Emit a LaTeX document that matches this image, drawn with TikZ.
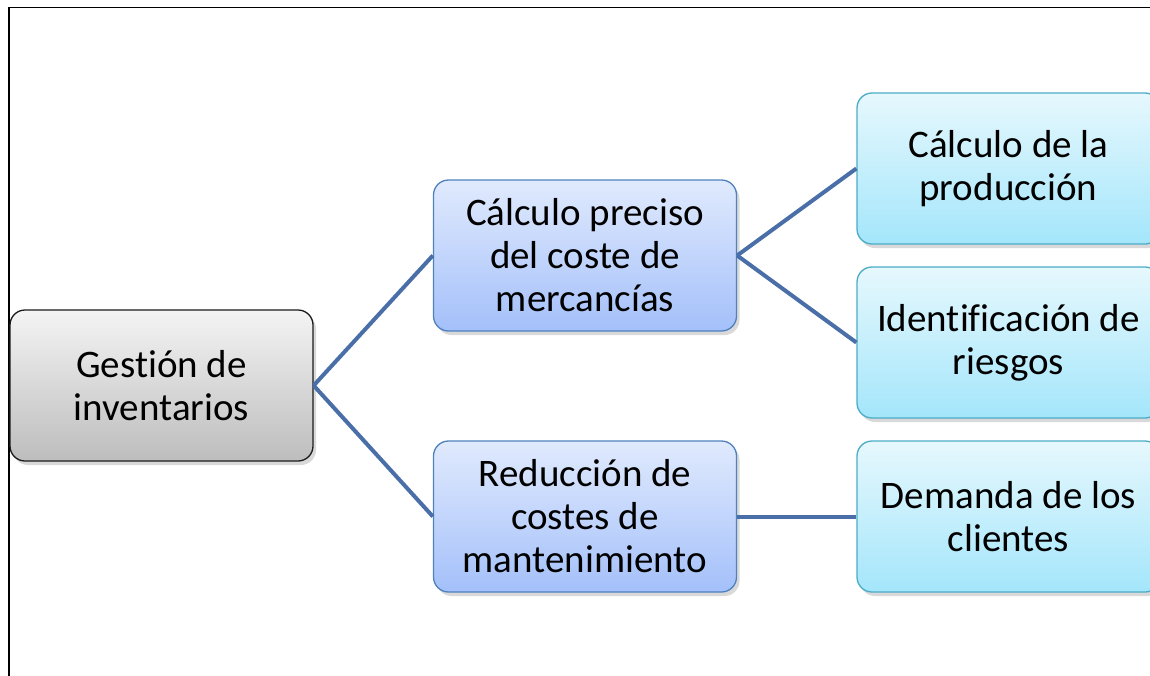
\documentclass[tikz,border=0pt]{standalone}
\usepackage{fontspec}
\setmainfont[Ligatures={NoCommon},RawFeature={-liga;-dlig;-clig}]{Carlito}
\usetikzlibrary{shadows}
\definecolor{grayline}{HTML}{1C1C1C}
\definecolor{graytop}{HTML}{F4F4F4}
\definecolor{graybot}{HTML}{BDBDBD}
\definecolor{blueline}{HTML}{4F81BD}
\definecolor{bluetop}{HTML}{E0EAFD}
\definecolor{bluebot}{HTML}{A4C0FA}
\definecolor{cyanline}{HTML}{4BACC6}
\definecolor{cyantop}{HTML}{E6F8FD}
\definecolor{cyanbot}{HTML}{A4E6FB}
\definecolor{connc}{HTML}{4A6FA8}
\begin{document}
\begin{tikzpicture}[x=1pt,y=-1pt,
  box/.style={rectangle, rounded corners=15pt, minimum width=303pt, minimum height=151pt,
    align=center, inner sep=0pt,
    font=\fontsize{39}{43}\selectfont, line width=1.3pt,
    drop shadow={opacity=0.3, shadow xshift=3pt, shadow yshift=-4pt}},
  graybox/.style={box, draw=grayline, top color=graytop, bottom color=graybot},
  bluebox/.style={box, draw=blueline, top color=bluetop, bottom color=bluebot},
  cyanbox/.style={box, draw=cyanline, top color=cyantop, bottom color=cyanbot},
  conn/.style={draw=connc, line width=4pt}]
\useasboundingbox (0,0) rectangle (1150,675);
\clip (0,0) rectangle (1150,675);
\draw[line width=1.4pt] (1150,7.5) -- (9,7.5) -- (9,676);
\node[graybox] (root) at (161.5,385.5) {Gestión de\\inventarios};
\node[bluebox] (m1) at (585,255.5) {Cálculo preciso\\del coste de\\mercancías};
\node[bluebox] (m2) at (585,516.5) {Reducción de\\costes de\\mantenimiento};
\node[cyanbox] (r1) at (1008.5,168.5) {Cálculo de la\\producción};
\node[cyanbox] (r2) at (1008.5,342.5) {Ident\kern0pt ificación de\\riesgos};
\node[cyanbox] (r3) at (1008.5,516.5) {Demanda de los\\clientes};
\draw[conn] (root.east) -- (m1.west);
\draw[conn] (root.east) -- (m2.west);
\draw[conn] (m1.east) -- (r1.west);
\draw[conn] (m1.east) -- (r2.west);
\draw[conn] (m2.east) -- (r3.west);
\end{tikzpicture}
\end{document}
